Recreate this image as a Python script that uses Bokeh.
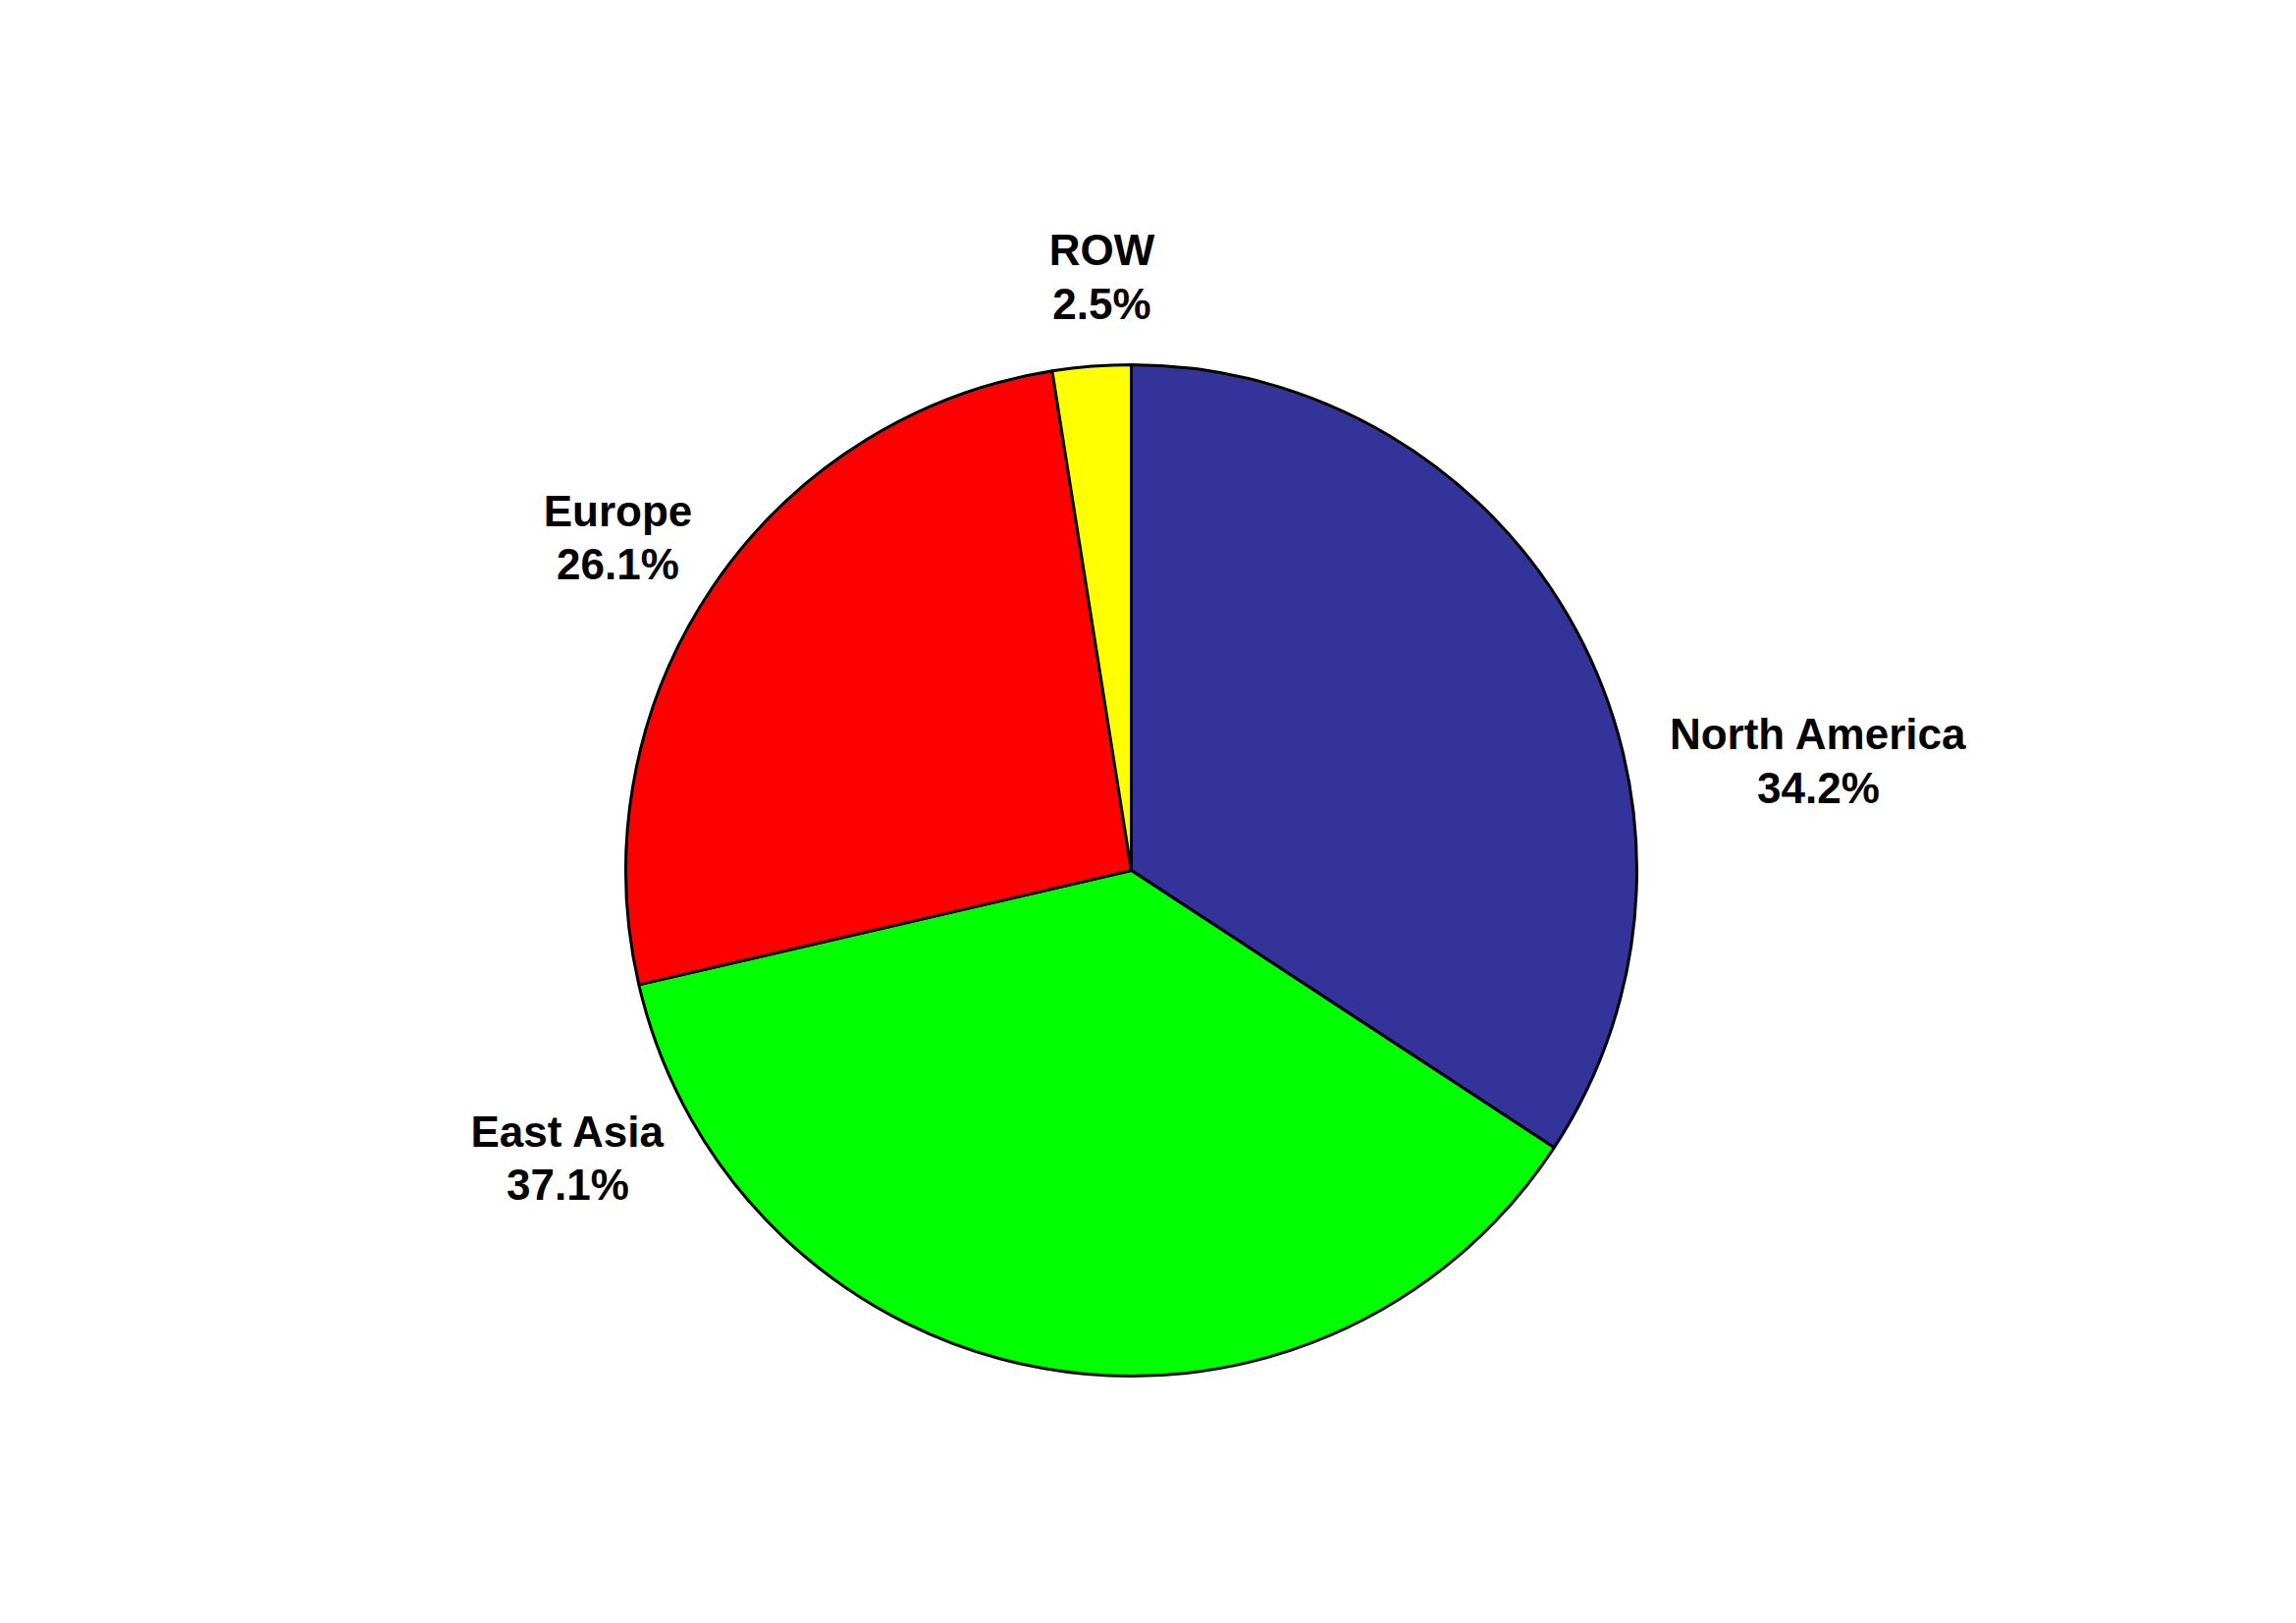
import numpy as np
from bokeh.plotting import figure
from bokeh.models import Range1d, ColumnDataSource
from bokeh.core.properties import value
from bokeh.embed import file_html
from bokeh.resources import INLINE

regions = ["North America", "East Asia", "Europe", "ROW"]
shares = [34.2, 37.1, 26.1, 2.5]
colors = ["#333399", "#00FF00", "#FF0000", "#FFFF00"]

W, H = 2323, 1637
p = figure(width=W, height=H, output_backend="svg", toolbar_location=None,
           x_range=Range1d(0, W), y_range=Range1d(1653 - H, 1653),
           min_border=0, outline_line_color=None)
p.axis.visible = False
p.grid.visible = False
p.background_fill_color = "white"
p.border_fill_color = "white"

frac = np.array(shares) / np.sum(shares)
cum = np.concatenate([[0], np.cumsum(frac)])
start = np.pi / 2 - cum[1:] * 2 * np.pi
end = np.pi / 2 - cum[:-1] * 2 * np.pi

cx, cy = 1152, 1653 - 886
src = ColumnDataSource(dict(start=start, end=end, color=colors))
p.wedge(x=cx, y=cy, radius=515, radius_units="screen",
        start_angle="start", end_angle="end", direction="anticlock",
        fill_color="color", line_color="black", line_width=3, source=src)

# label layout (pixel positions of label centres)
lx = [1852, 578, 629, 1122]
ly_name = [747, 1152, 520, 254]
ly_pct = [802, 1206, 574, 309]

lab = ColumnDataSource(dict(
    x=lx,
    yn=[1653 - v for v in ly_name],
    yp=[1653 - v for v in ly_pct],
    name=regions,
    pct=[f"{s}%" for s in shares],
))
for col, ycol in (("name", "yn"), ("pct", "yp")):
    p.text(x="x", y=ycol, text=col, source=lab,
           text_font=value("Liberation Sans"), text_font_style="bold",
           text_font_size="44px", text_align="center", text_baseline="middle",
           text_color="black")

open("out.html", "w").write(file_html(p, INLINE))
